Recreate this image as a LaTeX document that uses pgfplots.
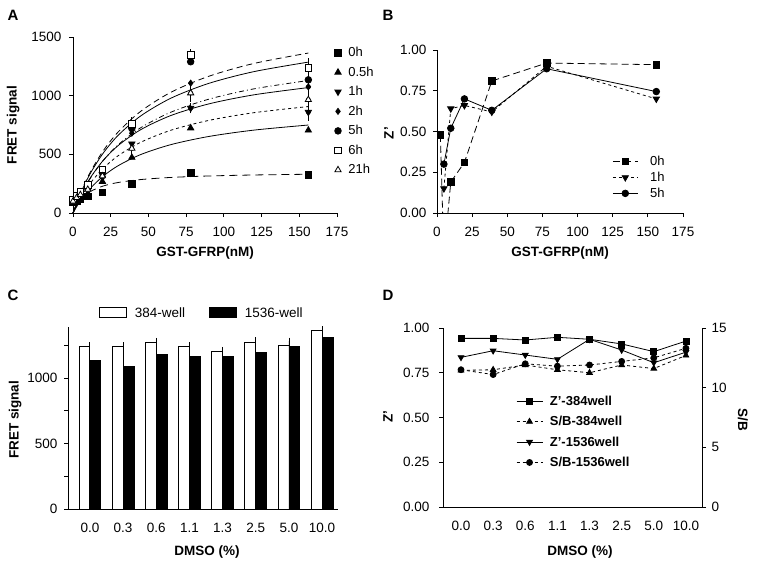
\documentclass[border=0pt]{standalone}
\usepackage{pgfplots}
\pgfplotsset{compat=1.18}
\usepackage{fontspec}
\setmainfont{Liberation Sans}
\pgfplotsset{
 prism/.style={
  scale only axis,
  axis lines=left, axis line style={-, line width=0.8pt},
  tick align=outside, major tick length=4pt,
  every tick/.style={black, line width=0.8pt},
  /pgf/number format/assume math mode=true,
  /pgf/number format/1000 sep={},
  tick label style={font=\fontsize{13.5}{16}\selectfont},
  xticklabel style={yshift=-7pt},
  label style={font=\bfseries\fontsize{13.5}{16}\selectfont},
  legend style={font=\fontsize{13}{15}\selectfont, draw=none, fill=none},
  legend cell align=left,
 },
 ln/.style={black, line width=0.8pt},
}
\begin{document}
\begin{tikzpicture}
\path[use as bounding box] (0,0) rectangle (764pt,566pt);
% ---------------- Panel A ----------------
\begin{axis}[prism, at={(73pt,353pt)}, anchor=south west, width=264pt, height=176pt,
 xmin=0, xmax=175, ymin=0, ymax=1500, xtick={0,25,...,175}, ytick={0,500,1000,1500},
 yticklabel style={xshift=-4pt},
 xlabel={GST-GFRP(nM)}, ylabel={FRET signal},
 xlabel style={at={(axis description cs:0.5,-0.227)}, anchor=center},
 ylabel style={at={(axis description cs:-0.227,0.5)}, anchor=center},
 legend style={at={(0.975,0.965)}, anchor=north west, row sep=4.6pt},
 legend image code/.code={\draw[#1] plot coordinates {(0pt,0pt)}; \path (-4pt,0pt) (8pt,0pt);},
 clip=false]
\addplot[ln, forget plot, smooth, dash pattern=on 6pt off 4pt] coordinates {(0,0)(3,106.4)(7,230.0)(12,360.8)(20,529.6)(30,691.2)(45,867.7)(65,1029.6)(90,1165.4)(120,1274.7)(156,1363.3)};
\addplot[ln, forget plot, smooth] coordinates {(0,0)(3,103.6)(7,223.1)(12,348.8)(20,509.8)(30,662.8)(45,828.5)(65,979.1)(90,1104.7)(120,1205.1)(156,1286.0)};
\addplot[ln, forget plot, smooth, dash pattern=on 5pt off 3pt on 1pt off 3pt] coordinates {(0,0)(3,90.9)(7,195.9)(12,306.3)(20,447.7)(30,582.0)(45,727.5)(65,859.8)(90,970.0)(120,1058.2)(156,1129.3)};
\addplot[ln, forget plot, smooth] coordinates {(0,0)(3,93.7)(7,200.0)(12,309.9)(20,447.7)(30,575.6)(45,711.0)(65,831.4)(90,929.8)(120,1007.3)(156,1068.9)};
\addplot[ln, forget plot, smooth, dash pattern=on 3pt off 3pt] coordinates {(0,0)(3,79.5)(7,169.8)(12,263.1)(20,380.0)(30,488.6)(45,603.5)(65,705.7)(90,789.2)(120,855.0)(156,907.3)};
\addplot[ln, forget plot, smooth] coordinates {(0,0)(3,65.7)(7,140.3)(12,217.4)(20,314.0)(30,403.7)(45,498.7)(65,583.1)(90,652.2)(120,706.5)(156,749.8)};
\addplot[ln, forget plot, smooth, dash pattern=on 8pt off 5pt] coordinates {(0,0)(3,77.3)(7,139.6)(12,186.6)(20,230.0)(30,260.2)(45,285.2)(65,303.1)(90,315.5)(120,324.1)(156,330.3)};
% error bars
\addplot[ln, forget plot, only marks, mark=none, error bars/.cd, y dir=both, y explicit,
 error bar style={line width=0.8pt}, error mark options={line width=0.8pt, mark size=3.5pt}]
 coordinates {(156,1236) +- (0,55) (78,1346) +- (0,20) (39,760) +- (0,25)
 (156,860) +- (0,45) (78,894) +- (0,15) (156,1075) +- (0,30) (156,1135) +- (0,25)
 (78,1022) +- (0,45) (156,965) +- (0,25) (39,550) +- (0,20)};
\addplot[ln, only marks, mark=square*, mark size=3.3pt] coordinates {(0,95)(2.4,100)(4.9,115)(9.8,140)(19.5,174)(39,248)(78,341)(156,324)};
\addlegendentry{0h}
\addplot[ln, only marks, mark=triangle*, mark size=3.6pt] coordinates {(0,100)(2.4,118)(4.9,135)(9.8,165)(19.5,268)(39,473)(78,724)(156,705)};
\addlegendentry{0.5h}
\addplot[ln, only marks, mark=triangle*, mark size=3.6pt, mark options={rotate=180}] coordinates {(0,100)(2.4,125)(4.9,148)(9.8,190)(19.5,300)(39,590)(78,894)(156,860)};
\addlegendentry{1h}
\addplot[ln, only marks, mark=diamond*, mark size=3pt] coordinates {(0,105)(2.4,135)(4.9,160)(9.8,205)(19.5,330)(39,680)(78,1107)(156,1075)};
\addlegendentry{2h}
\addplot[ln, only marks, mark=*, mark size=3.3pt] coordinates {(0,105)(2.4,140)(4.9,168)(9.8,220)(19.5,345)(39,720)(78,1289)(156,1135)};
\addlegendentry{5h}
\addplot[ln, only marks, mark=square*, mark size=3.3pt, mark options={fill=white}] coordinates {(0,110)(2.4,150)(4.9,180)(9.8,240)(19.5,370)(39,760)(78,1346)(156,1236)};
\addlegendentry{6h}
\addplot[ln, only marks, mark=triangle*, mark size=3.6pt, mark options={fill=white}] coordinates {(0,100)(2.4,130)(4.9,155)(9.8,200)(19.5,315)(39,550)(78,1022)(156,965)};
\addlegendentry{21h}
\end{axis}
% ---------------- Panel B ----------------
\begin{axis}[prism, at={(437pt,353pt)}, anchor=south west, width=246pt, height=163pt,
 xmin=0, xmax=175, ymin=0, ymax=1, xtick={0,25,...,175}, ytick={0,0.25,...,1},
 yticklabel style={xshift=-3pt, /pgf/number format/.cd, fixed, fixed zerofill, precision=2},
 xlabel={GST-GFRP(nM)}, ylabel={Z'},
 xlabel style={at={(axis description cs:0.5,-0.245)}, anchor=center},
 ylabel style={at={(axis description cs:-0.195,0.49)}, anchor=center},
 clip marker paths=true,
 legend style={at={(0.7,0.375)}, anchor=north west, row sep=1pt},
 legend image code/.code={\draw[#1, mark repeat=2, mark phase=2] plot coordinates {(0pt,0pt) (12.5pt,0pt) (25pt,0pt)}; \path (0pt,0pt) (35pt,0pt);}]
\addplot[ln, dash pattern=on 7pt off 4pt, mark=square*, mark size=3.3pt, mark options={solid}] coordinates {(2.4,0.48)(4.9,-0.27)(9.8,0.19)(19.5,0.31)(39,0.81)(78,0.92)(156,0.91)};
\addlegendentry{0h}
\addplot[ln, dash pattern=on 3pt off 3pt, mark=triangle*, mark size=3.6pt, mark options={solid, rotate=180}] coordinates {(4.9,0.15)(9.8,0.64)(19.5,0.66)(39,0.62)(78,0.90)(156,0.70)};
\addlegendentry{1h}
\addplot[ln, mark=*, mark size=3.3pt] coordinates {(4.9,0.30)(9.8,0.52)(19.5,0.70)(39,0.63)(78,0.885)(156,0.745)};
\addlegendentry{5h}
\end{axis}
% ---------------- Panel C ----------------
\begin{axis}[prism, at={(68pt,57pt)}, anchor=south west, width=270pt, height=182pt,
 xmin=-0.66, xmax=7.48, ymin=0, ymax=1390,
 ytick={0,250,...,1250}, yticklabels={0,,500,,1000,},
 yticklabel style={xshift=-3pt},
 xtick={0,...,7}, xticklabels={0.0,0.3,0.6,1.1,1.3,2.5,5.0,10.0},
 x tick style={draw=none},
 xlabel={DMSO (\%)}, ylabel={FRET signal},
 xlabel style={at={(axis description cs:0.515,-0.236)}, anchor=center},
 ylabel style={at={(axis description cs:-0.196,0.49)}, anchor=center},
 legend columns=2,
 legend style={at={(0.496,1.02)}, anchor=south, font=\fontsize{13.5}{16}\selectfont, /tikz/every even column/.append style={column sep=22pt}}]
\addlegendimage{legend image code/.code={\draw[fill=white, draw=black, line width=0.8pt] (0pt,-4pt) rectangle (27pt,6pt); \path (0pt,0pt) (33pt,0pt);}}
\addlegendentry{384-well}
\addlegendimage{legend image code/.code={\draw[fill=black, draw=black, line width=0.8pt] (0pt,-4pt) rectangle (27pt,6pt); \path (0pt,0pt) (33pt,0pt);}}
\addlegendentry{1536-well}
\addplot[forget plot, ybar, bar width=0.33, bar shift=-0.165, fill=white, draw=black, line width=0.8pt,
 error bars/.cd, y dir=plus, y explicit, error bar style={line width=0.8pt}, error mark options={line width=0.8pt, mark size=3.5pt}]
 coordinates {(0,1239) +- (0,8) (1,1242) +- (0,6) (2,1270) +- (0,10) (3,1239) +- (0,6) (4,1206) +- (0,6) (5,1270) +- (0,15) (6,1252) +- (0,25) (7,1366) +- (0,12)};
\addplot[forget plot, ybar, bar width=0.33, bar shift=0.165, fill=black, draw=black, line width=0.8pt,
 error bars/.cd, y dir=plus, y explicit, error bar style={line width=0.8pt}, error mark options={line width=0.8pt, mark size=3.5pt}]
 coordinates {(0,1137) +- (0,30) (1,1087) +- (0,25) (2,1183) +- (0,36) (3,1163) +- (0,38) (4,1168) +- (0,8) (5,1196) +- (0,25) (6,1239) +- (0,43) (7,1310) +- (0,35)};
\end{axis}
% ---------------- Panel D ----------------
\begin{axis}[prism, at={(443pt,59pt)}, anchor=south west, width=259pt, height=179pt,
 xmin=-0.56, xmax=7.5, ymin=0, ymax=1,
 axis x line*=bottom, axis y line*=left,
 ytick={0,0.25,...,1},
 yticklabel style={xshift=-6pt, /pgf/number format/.cd, fixed, fixed zerofill, precision=2},
 xtick={0,...,7}, xticklabels={0.0,0.3,0.6,1.1,1.3,2.5,5.0,10.0},
 x tick style={draw=none},
 xlabel={DMSO (\%)}, ylabel={Z'},
 xlabel style={at={(axis description cs:0.529,-0.251)}, anchor=center},
 ylabel style={at={(axis description cs:-0.212,0.503)}, anchor=center},
 legend style={at={(0.27,0.645)}, anchor=north west, row sep=5.5pt, font=\bfseries\fontsize{13}{15}\selectfont},
 legend image code/.code={\draw[#1, mark repeat=2, mark phase=2] plot coordinates {(0pt,0pt) (13pt,0pt) (26pt,0pt)}; \path (0pt,0pt) (31pt,0pt);}]
\addlegendimage{ln, mark=square*, mark size=3pt}
\addlegendentry{Z'-384well}
\addlegendimage{ln, dash pattern=on 3pt off 3pt, mark=triangle*, mark size=3.3pt, mark options={solid}}
\addlegendentry{S/B-384well}
\addlegendimage{ln, mark=triangle*, mark size=3.3pt, mark options={rotate=180}}
\addlegendentry{Z'-1536well}
\addlegendimage{ln, dash pattern=on 3pt off 3pt, mark=*, mark size=3pt, mark options={solid}}
\addlegendentry{S/B-1536well}
\addplot[ln, forget plot, mark=square*, mark size=3pt] coordinates {(0,0.942)(1,0.942)(2,0.933)(3,0.948)(4,0.937)(5,0.911)(6,0.868)(7,0.927)};
\addplot[ln, forget plot, mark=triangle*, mark size=3.3pt, mark options={rotate=180}] coordinates {(0,0.836)(1,0.873)(2,0.849)(3,0.825)(4,0.937)(5,0.877)(6,0.806)(7,0.865)};
\end{axis}
\begin{axis}[prism, at={(443pt,59pt)}, anchor=south west, width=259pt, height=179pt,
 xmin=-0.56, xmax=7.5, ymin=0, ymax=15,
 axis x line=none, axis y line*=right,
 ytick={0,5,10,15}, ylabel={S/B},
 yticklabel style={xshift=2pt},
 ylabel style={at={(axis description cs:1.158,0.486)}, anchor=center, rotate=180}]
\addplot[ln, dash pattern=on 3pt off 3pt, mark=triangle*, mark size=3.3pt, mark options={solid}] coordinates {(0,11.45)(1,11.5)(2,11.9)(3,11.5)(4,11.25)(5,11.9)(6,11.6)(7,12.7)};
\addplot[ln, dash pattern=on 3pt off 3pt, mark=*, mark size=3pt, mark options={solid}] coordinates {(0,11.5)(1,11.1)(2,12.0)(3,11.8)(4,11.9)(5,12.2)(6,12.5)(7,13.3)};
\end{axis}
% panel letters
\node[font=\bfseries\fontsize{15}{17}\selectfont] at (13pt,551pt) {A};
\node[font=\bfseries\fontsize{15}{17}\selectfont] at (388pt,551pt) {B};
\node[font=\bfseries\fontsize{15}{17}\selectfont] at (13pt,271pt) {C};
\node[font=\bfseries\fontsize{15}{17}\selectfont] at (388pt,271pt) {D};
\end{tikzpicture}
\end{document}
